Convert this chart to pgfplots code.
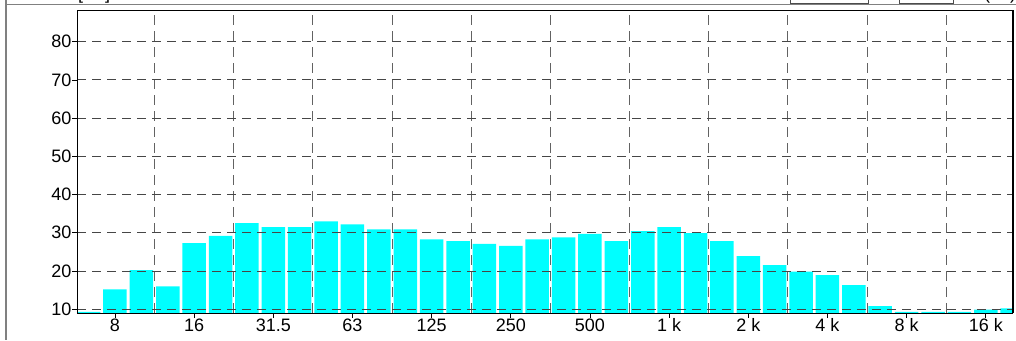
\documentclass[border=0pt]{standalone}
\usepackage{pgfplots}
\pgfplotsset{compat=1.18}
\usepackage{fontspec}
\setmainfont{Liberation Sans}
\definecolor{barcyan}{RGB}{0,255,255}
\definecolor{gridgray}{RGB}{70,70,70}
\definecolor{framegray}{RGB}{128,128,128}
\pgfplotstableread{
idx val
-1 9.3
0 15.2
1 20.2
2 16.0
3 27.3
4 29.2
5 32.5
6 31.5
7 31.5
8 33.0
9 32.2
10 30.9
11 30.9
12 28.3
13 27.8
14 27.1
15 26.6
16 28.3
17 28.8
18 29.7
19 27.8
20 30.4
21 31.5
22 29.9
23 27.8
24 23.9
25 21.5
26 19.8
27 18.9
28 16.3
29 10.8
30 9.3
31 9.3
32 9.3
33 9.9
34 10.2
}\spectrum
\begin{document}
\begin{tikzpicture}
\path[use as bounding box] (0pt,0pt) rectangle (1016pt,340pt);
\begin{scope}
\clip (0pt,0pt) rectangle (1016pt,340pt);
% window frame remnants
\draw[framegray, line width=1.6pt] (6pt,340pt) -- (6pt,0pt);
\draw[framegray, line width=1.4pt] (6pt,335.2pt) -- (1016pt,335.2pt);
\draw[black!70, line width=0.8pt] (790pt,345pt) rectangle (868pt,337pt);
\draw[black!70, line width=0.8pt] (899pt,345pt) rectangle (953pt,337pt);
\node[anchor=base west, inner sep=0pt, font=\fontsize{18}{21}\selectfont] at (78pt,340.6pt) {[dB]};
\node[anchor=base west, inner sep=0pt, font=\fontsize{18}{21}\selectfont] at (984pt,340.6pt) {(};
\node[anchor=base west, inner sep=0pt, font=\fontsize{18}{21}\selectfont] at (1010pt,340.6pt) {)};
\end{scope}
\begin{scope}
\clip (0pt,0pt) rectangle (1016pt,340pt);
\begin{axis}[
  at={(77pt,27pt)}, anchor=south west,
  scale only axis, width=935.7pt, height=303pt,
  xmin=-1.44, xmax=34.02, ymin=9, ymax=88.3,
  axis on top,
  axis line style={black, line width=0.8pt},
  xtick={0,3,...,33},
  xticklabels={8,16,31.5,63,125,250,500,1 k,2 k,4 k,8 k,16 k},
  ytick={10,20,...,80},
  minor xtick={1.5,4.5,...,31.5},
  tick align=outside,
  major tick length=5pt,
  minor tick length=0pt,
  tick style={black, line width=0.8pt},
  xtick pos=bottom, ytick pos=left,
  ymajorgrids, xminorgrids,
  major grid style={gridgray, line width=0.9pt, dash pattern=on 9pt off 6pt},
  minor grid style={gridgray!85, line width=0.9pt, dash pattern=on 10pt off 6pt},
  tick label style={font=\fontsize{18}{21}\selectfont},
  /pgf/number format/assume math mode=true,
  yticklabel style={inner sep=0.5pt},
  xticklabel style={inner sep=0.5pt},
  ybar, bar width=23.5pt,
]
\addplot[fill=barcyan, draw=none] table[x=idx, y=val] {\spectrum};
\end{axis}
\draw[black, line width=2pt] (1012.7pt,27pt) -- (1012.7pt,330pt);
\end{scope}
\end{tikzpicture}
\end{document}
